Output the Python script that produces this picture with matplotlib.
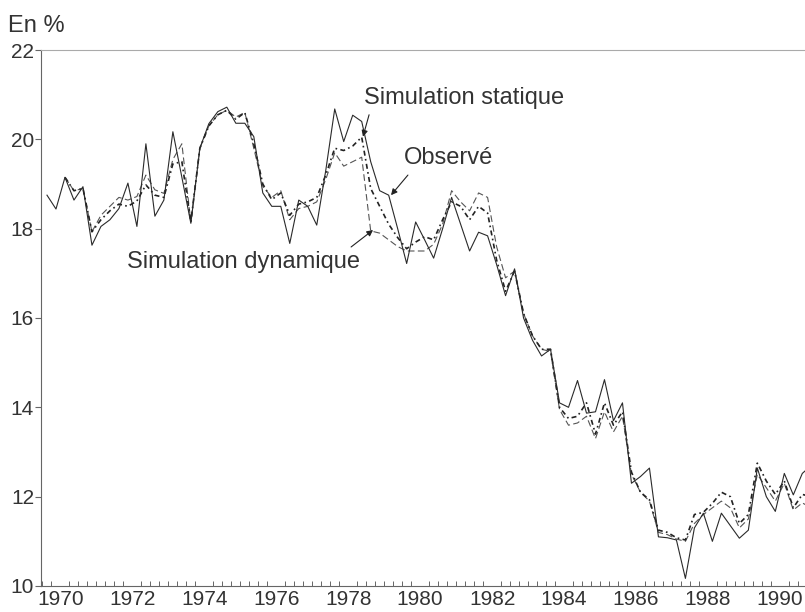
import matplotlib
matplotlib.use('Agg')
import matplotlib.pyplot as plt
import numpy as np

plt.rcParams['font.family'] = ['Liberation Sans', 'DejaVu Sans']

# Trimestres à partir de 1970T1
debut = 1970
observe = [18.75, 18.44, 19.15, 18.64, 18.94, 17.63, 18.05, 18.2, 18.45, 19.02,
           18.05, 19.9, 18.28, 18.64, 20.17, 19.15, 18.12, 19.8, 20.35, 20.62,
           20.72, 20.36, 20.36, 20.06, 18.8, 18.5, 18.5, 17.67, 18.64, 18.5,
           18.08, 19.3, 20.68, 19.95, 20.54, 20.4, 19.5, 18.85, 18.75, 18.0,
           17.22, 18.15, 17.75, 17.34, 18.0, 18.7, 18.1, 17.5, 17.92, 17.84,
           17.2, 16.5, 17.1, 16.0, 15.5, 15.15, 15.3, 14.1, 14.0, 14.6,
           13.87, 13.9, 14.62, 13.7, 14.1, 12.3, 12.45, 12.64, 11.1, 11.08,
           11.03, 10.17, 11.3, 11.63, 11.0, 11.63, 11.35, 11.07, 11.25, 12.64,
           12.0, 11.67, 12.52, 12.04, 12.52, 12.7]
statique = [np.nan, np.nan, 19.15, 18.85, 18.9, 17.93, 18.2, 18.4, 18.55, 18.5,
            18.62, 18.98, 18.75, 18.7, 19.45, 19.5, 18.15, 19.8, 20.3, 20.55,
            20.65, 20.45, 20.6, 19.9, 19.0, 18.65, 18.8, 18.3, 18.55, 18.6,
            18.7, 19.2, 19.8, 19.75, 19.85, 20.05, 18.9, 18.5, 18.1, 17.8,
            17.55, 17.7, 17.82, 17.75, 18.2, 18.6, 18.5, 18.2, 18.5, 18.35,
            17.3, 16.6, 17.05, 16.1, 15.6, 15.3, 15.3, 14.0, 13.75, 13.8,
            14.1, 13.4, 14.1, 13.6, 13.9, 12.55, 12.1, 11.93, 11.25, 11.2,
            11.08, 11.03, 11.6, 11.65, 11.85, 12.1, 12.0, 11.4, 11.6, 12.75,
            12.35, 12.05, 12.35, 11.75, 12.05, 12.0]
dynamique = [np.nan, np.nan, 19.15, 18.85, 18.9, 17.93, 18.3, 18.5, 18.7, 18.64,
             18.72, 19.2, 18.87, 18.79, 19.55, 19.9, 18.15, 19.8, 20.3, 20.55,
             20.65, 20.5, 20.6, 19.8, 18.95, 18.7, 18.85, 18.2, 18.45, 18.5,
             18.6, 19.1, 19.7, 19.4, 19.5, 19.6, 17.95, 17.9, 17.75, 17.6,
             17.5, 17.5, 17.5, 17.65, 18.1, 18.85, 18.6, 18.4, 18.8, 18.7,
             17.6, 16.9, 17.05, 16.1, 15.6, 15.3, 15.25, 13.95, 13.6, 13.65,
             13.8, 13.3, 13.9, 13.45, 13.8, 12.5, 12.1, 11.9, 11.2, 11.15,
             11.05, 11.0, 11.4, 11.6, 11.75, 11.9, 11.75, 11.3, 11.5, 12.5,
             12.2, 11.9, 12.3, 11.7, 11.86, 11.75]

annees = list(range(1970, 1992, 2))
graduations_y = [10, 12, 14, 16, 18, 20, 22]

t = debut + np.arange(len(observe)) / 4 + 0.125

fig = plt.figure(figsize=(8.05, 6.12), dpi=100)
ax = fig.add_axes([0.051, 0.0425, 0.949, 0.8758])

ax.plot(t, dynamique, color='#555555', lw=0.8, ls=(0, (6, 3)))
ax.plot(t, statique, color='#222222', lw=1.2, ls=(0, (3, 2, 1, 2)))
ax.plot(t, observe, color='#2a2a2a', lw=0.8)

ax.set_xlim(1969.96, 1991.2)
ax.set_ylim(10, 22)

# Axes : gauche, haut et bas seulement
ax.spines['right'].set_visible(False)
for cote in ['left', 'bottom']:
    ax.spines[cote].set_color('#666666')
    ax.spines[cote].set_linewidth(0.8)
ax.spines['top'].set_color('#aaaaaa')
ax.spines['top'].set_linewidth(0.8)

ax.set_yticks(graduations_y)
ax.set_yticklabels([str(v) for v in graduations_y])
ax.tick_params(axis='y', direction='out', length=4, width=0.8, color='#666666',
               labelsize=15, pad=1, labelcolor='#333333')

ax.set_xticks([a + 0.5 for a in annees])
ax.set_xticklabels([str(a) for a in annees])
ax.set_xticks(np.arange(1970, 1991.25, 0.25), minor=True)
ax.tick_params(axis='x', which='major', length=0, labelsize=15, pad=3,
               labelcolor='#333333')
ax.tick_params(axis='x', which='minor', direction='in', length=3.5, width=0.7,
               color='#666666')

fig.text(0.01, 0.958, 'En %', fontsize=17, color='#333333', va='center', ha='left')

# Libellés des courbes et flèches
police = dict(fontsize=17, color='#333333', va='center', ha='left')
ax.text(1978.94, 20.93, 'Simulation statique', **police)
ax.text(1980.06, 19.58, 'Observé', **police)
ax.text(1972.36, 17.25, 'Simulation dynamique', **police)

fleche = dict(arrowstyle='-|>', lw=0.8, color='#222222', mutation_scale=9,
              shrinkA=0, shrinkB=0)
ax.annotate('', xy=(1978.91, 20.06), xytext=(1979.08, 20.55), arrowprops=fleche)
ax.annotate('', xy=(1979.69, 18.75), xytext=(1980.16, 19.2), arrowprops=fleche)
ax.annotate('', xy=(1979.19, 17.97), xytext=(1978.58, 17.59), arrowprops=fleche)

fig.savefig('out.png', dpi=100)
